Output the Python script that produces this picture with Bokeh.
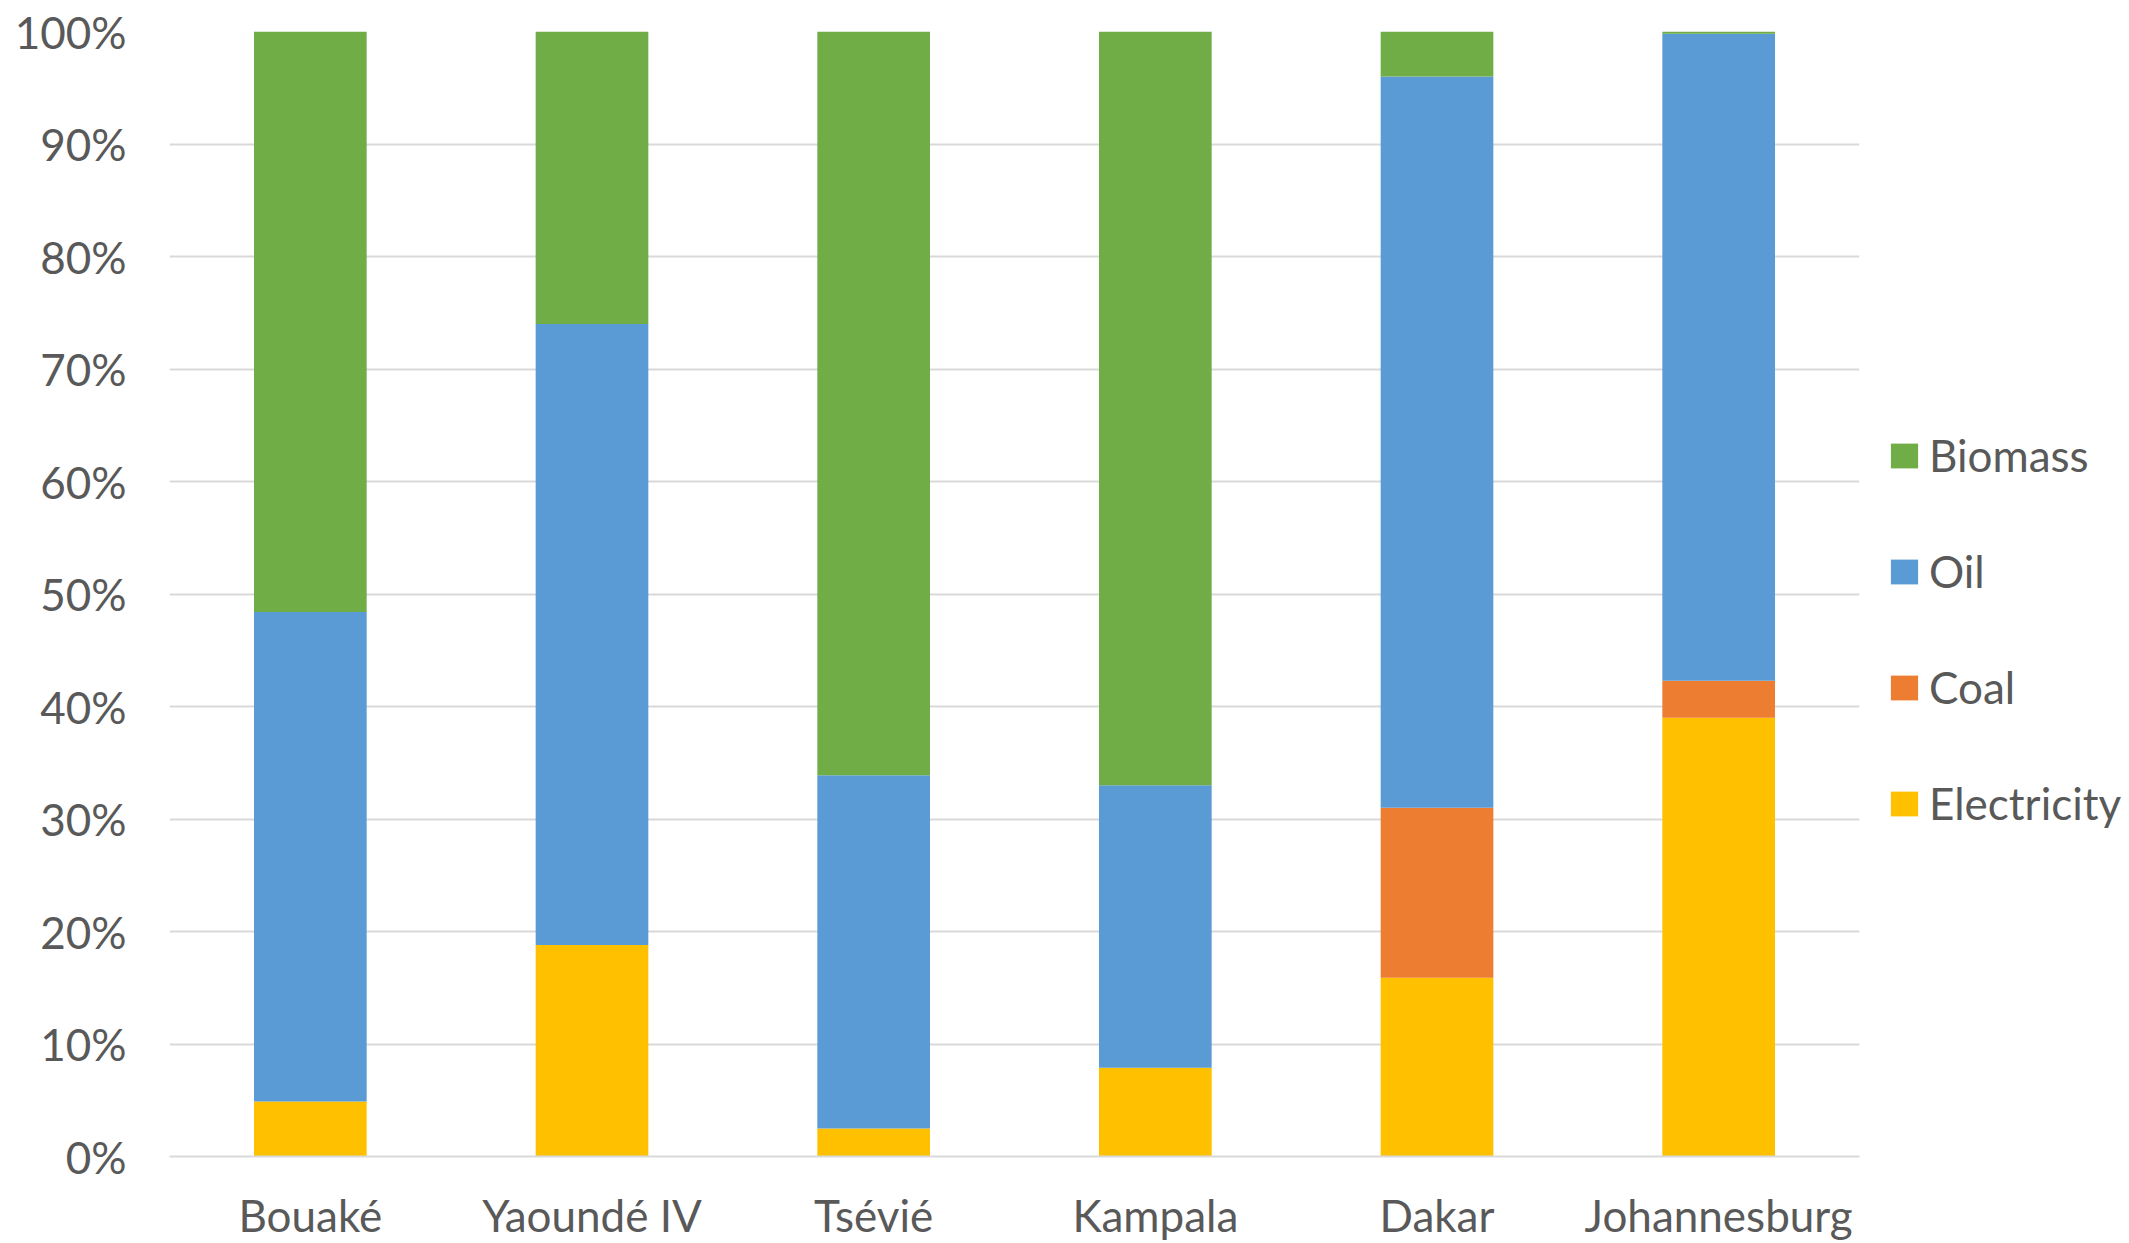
from bokeh.plotting import figure
from bokeh.layouts import row
from bokeh.models import (ColumnDataSource, FactorRange, Range1d, FixedTicker,
                          PrintfTickFormatter, Legend, LegendItem)
from bokeh.embed import file_html
from bokeh.resources import INLINE

# Share of household energy use by source (%), per city
cities = ["Bouaké", "Yaoundé IV", "Tsévié", "Kampala", "Dakar", "Johannesburg"]
electricity = [4.9, 18.8, 2.5, 7.9, 15.9, 39.0]
coal = [0.0, 0.0, 0.0, 0.0, 15.1, 3.3]
oil = [43.5, 55.2, 31.4, 25.1, 65.0, 57.5]
biomass = [51.6, 26.0, 66.1, 67.0, 4.0, 0.2]

series = ["Electricity", "Coal", "Oil", "Biomass"]
colors = ["#FFC000", "#ED7D31", "#5B9BD5", "#70AD47"]
y_ticks = list(range(0, 101, 10))

FONT = "Lato"
TEXT_COLOR = "#595959"
FONT_SIZE = "44px"
TOTAL_W, TOTAL_H = 2129, 1243
CHART_W = 1875

source = ColumnDataSource(data=dict(city=cities, Electricity=electricity,
                                    Coal=coal, Oil=oil, Biomass=biomass))

# ---- main chart -------------------------------------------------------------
p = figure(x_range=FactorRange(*cities), y_range=Range1d(0, 100),
           width=CHART_W, height=TOTAL_H, output_backend="svg",
           toolbar_location=None,
           min_border_left=169, min_border_right=16,
           min_border_top=31, min_border_bottom=86)
p.outline_line_color = None
p.background_fill_color = "white"
p.border_fill_color = "white"

renderers = p.vbar_stack(series, x="city", width=0.4, color=colors,
                         line_color=None, source=source)

# horizontal gridlines only
p.xgrid.grid_line_color = None
p.ygrid.grid_line_color = "#D9D9D9"
p.ygrid.grid_line_width = 2

# y axis: percent labels, no line or ticks
p.yaxis.ticker = FixedTicker(ticks=y_ticks)
p.yaxis.formatter = PrintfTickFormatter(format="%d%%")
p.yaxis.axis_line_color = None
p.yaxis.major_tick_line_color = None
p.yaxis.minor_tick_line_color = None
p.yaxis.major_label_standoff = 37
p.yaxis.major_label_text_font = FONT
p.yaxis.major_label_text_font_size = FONT_SIZE
p.yaxis.major_label_text_color = TEXT_COLOR

# x axis: city names
p.xaxis.axis_line_color = "#D9D9D9"
p.xaxis.axis_line_width = 2
p.xaxis.major_tick_line_color = None
p.xaxis.minor_tick_line_color = None
p.xaxis.major_label_standoff = 26
p.xaxis.major_label_text_font = FONT
p.xaxis.major_label_text_font_size = FONT_SIZE
p.xaxis.major_label_text_color = TEXT_COLOR

# ---- legend strip on the right ----------------------------------------------
lg = figure(x_range=FactorRange(*cities), y_range=Range1d(0, 100),
            width=TOTAL_W - CHART_W, height=TOTAL_H, output_backend="svg",
            toolbar_location=None, x_axis_location=None, y_axis_location=None,
            min_border=0)
lg.outline_line_color = None
lg.grid.grid_line_color = None
lg.background_fill_color = "white"
lg.border_fill_color = "white"
key_renderers = lg.vbar_stack(series, x="city", width=0.4, color=colors,
                              line_color=None, source=source, visible=False)

items = [LegendItem(label=name, renderers=[r])
         for name, r in zip(reversed(series), reversed(key_renderers))]
legend = Legend(items=items, location=(12, 327), orientation="vertical")
legend.label_text_font = FONT
legend.label_text_font_size = FONT_SIZE
legend.label_text_color = TEXT_COLOR
legend.glyph_width = 34
legend.glyph_height = 31
legend.label_standoff = 8
legend.label_height = 26
legend.spacing = 64
legend.padding = 0
legend.margin = 0
legend.border_line_color = None
legend.background_fill_alpha = 0
lg.add_layout(legend, "center")

layout = row(p, lg, spacing=0)
open("out.html", "w").write(file_html(layout, INLINE))
